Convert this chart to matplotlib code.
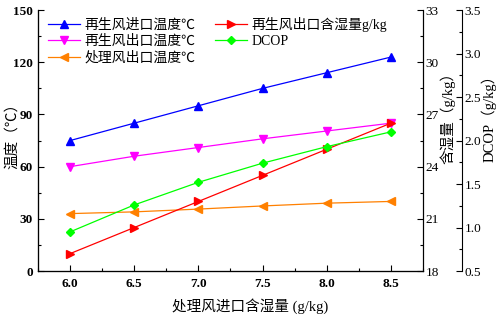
import numpy as np
import matplotlib
matplotlib.use("Agg")
import matplotlib.pyplot as plt
from matplotlib.ticker import MultipleLocator

plt.rcParams['font.family'] = ['Liberation Serif', 'Noto Sans CJK SC']
plt.rcParams['axes.unicode_minus'] = False

# data
x = [6.0, 6.5, 7.0, 7.5, 8.0, 8.5]
regen_in_temp = [75, 85, 95, 105, 114, 123]
regen_out_temp = [60, 66, 71, 76, 80.5, 85]
proc_out_temp = [33, 34, 35.6, 37.4, 39, 40]
regen_out_hum = [19.0, 20.5, 22.0, 23.5, 25.0, 26.5]
dcop = [0.95, 1.26, 1.52, 1.74, 1.93, 2.10]

fig = plt.figure(figsize=(5.0, 3.16), dpi=100)
ax = fig.add_axes([0.076, 0.1424, 0.77, 0.8256])
ax2 = ax.twinx()
ax3 = ax.twinx()
ax3.spines['right'].set_position(('axes', 1.101))

l1, = ax.plot(x, regen_in_temp, color='#0000ff', marker='^', ms=5.5, lw=0.9, label='再生风进口温度℃')
l2, = ax.plot(x, regen_out_temp, color='#ff00ff', marker='v', ms=5.5, lw=0.9, label='再生风出口温度℃')
l3, = ax.plot(x, proc_out_temp, color='#ff8000', marker='<', ms=5.5, lw=0.9, label='处理风出口温度℃')
l4, = ax2.plot(x, regen_out_hum, color='#ff0000', marker='>', ms=5.5, lw=0.9, label='再生风出口含湿量g/kg')
l5, = ax3.plot(x, dcop, color='#00ff00', marker='D', ms=4.5, lw=0.9, label='DCOP')

ax.set_xlim(5.75, 8.75)
ax.set_ylim(0, 150)
ax2.set_ylim(18, 33)
ax3.set_ylim(0.5, 3.5)

ax.xaxis.set_major_locator(MultipleLocator(0.5))
ax.xaxis.set_minor_locator(MultipleLocator(0.25))
ax.yaxis.set_major_locator(MultipleLocator(30))
ax.yaxis.set_minor_locator(MultipleLocator(15))
ax2.yaxis.set_major_locator(MultipleLocator(3))
ax2.yaxis.set_minor_locator(MultipleLocator(1.5))
ax3.yaxis.set_major_locator(MultipleLocator(0.5))
ax3.yaxis.set_minor_locator(MultipleLocator(0.25))

for a in (ax, ax2, ax3):
    a.spines['top'].set_visible(False)
    a.tick_params(which='major', direction='in', length=4, width=0.8)
    a.tick_params(which='minor', direction='in', length=2.5, width=0.8)
ax.xaxis.set_major_formatter(plt.FormatStrFormatter('%.1f'))
ax3.yaxis.set_major_formatter(plt.FormatStrFormatter('%.1f'))

ax.tick_params(axis='both', labelsize=9.5)
ax.tick_params(axis='x', pad=5)
ax2.tick_params(axis='y', labelsize=9.5, pad=2)
ax3.tick_params(axis='y', labelsize=9.5, pad=2)
for lab in ax.get_xticklabels() + ax.get_yticklabels():
    lab.set_fontweight('bold')

ax.set_xlabel('处理风进口含湿量 (g/kg)', fontsize=10.5)
ax.set_ylabel('温度（℃）', fontsize=10.5)
ax2.set_ylabel('含湿量（g/kg）', fontsize=10.5)
ax3.set_ylabel('DCOP（g/kg）', fontsize=10.5)
ax.xaxis.set_label_coords(0.55, -0.105)
ax.yaxis.set_label_coords(-0.05, 0.53)
ax2.yaxis.set_label_coords(1.045, 0.6)
ax3.yaxis.set_label_coords(1.15, 0.6)

ax.legend(handles=[l1, l2, l3, l4, l5], ncol=2, frameon=False, fontsize=10,
          loc='upper left', bbox_to_anchor=(0.0, 1.01), handlelength=2.3,
          handletextpad=0.35, columnspacing=1.4, labelspacing=0.2,
          borderaxespad=0.3)

fig.savefig('out.png', dpi=100)
